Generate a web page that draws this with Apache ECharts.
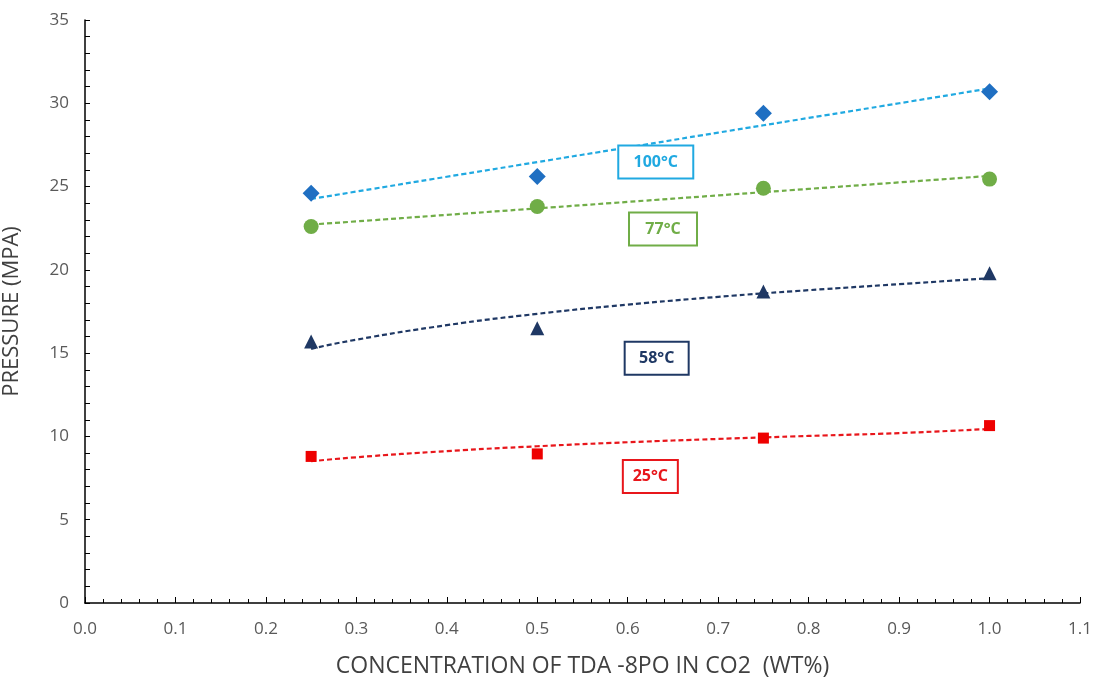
<!DOCTYPE html>
<html>
<head>
<meta charset="utf-8">
<script src="https://cdn.jsdelivr.net/npm/echarts@6/dist/echarts.min.js"></script>
<style>
  html, body { margin: 0; padding: 0; background: #fff; }
  #chart { width: 1098px; height: 681px; }
</style>
</head>
<body>
<div id="chart"></div>
<script>
// measured points (x = wt%)
var concX = [0.25, 0.5, 0.75, 1.0]
var p100 = [24.6, 25.6, 29.4, 30.7]
var p77 = [22.6, 23.8, 24.9, 25.45]
var p58 = [15.7, 16.5, 18.7, 19.8]
var p25 = [8.8, 8.95, 9.9, 10.65]

// trend lines
var trendX = [0.25, 0.3, 0.4, 0.5, 0.6, 0.7, 0.8, 0.9, 1.0]
var trend100 = [24.26, 24.7, 25.59, 26.47, 27.35, 28.24, 29.12, 30.0, 30.89]
var trend77 = [22.72, 22.91, 23.3, 23.69, 24.08, 24.47, 24.86, 25.25, 25.64]
var trend58 = [15.26, 15.81, 16.68, 17.36, 17.91, 18.38, 18.78, 19.14, 19.5]
var trend25 = [8.51, 8.75, 9.12, 9.41, 9.65, 9.85, 10.03, 10.2, 10.45]

// label boxes: [text, x, y, colour, box width]
var tempLabels = [
  ['100°C', 0.631, 26.47, '#20A9E1', 77],
  ['77°C', 0.639, 22.45, '#70AD47', 70],
  ['58°C', 0.632, 14.7, '#1F3864', 66],
  ['25°C', 0.625, 7.6, '#E8161B', 57]
]

function pairs (xs, ys) {
  return xs.map(function (x, i) { return [x, ys[i]] })
}

var chart = echarts.init(document.getElementById('chart'))
var fontFam = '"Open Sans", "Liberation Sans", sans-serif'

function scatter (data, symbol, size, color) {
  return {
    type: 'scatter',
    data: pairs(concX, data),
    symbol: symbol,
    symbolSize: size,
    itemStyle: { color: color, opacity: 1 },
    z: 5
  }
}
function trend (data, color) {
  return {
    type: 'line',
    data: pairs(trendX, data),
    smooth: true,
    showSymbol: false,
    lineStyle: { color: color, width: 2.2, type: [5, 3] },
    z: 3
  }
}

chart.setOption({
  animation: false,
  grid: { left: 85, right: 18, top: 20, bottom: 78, outerBoundsMode: 'none', containLabel: false },
  xAxis: {
    type: 'value',
    min: 0,
    max: 1.1,
    interval: 0.1,
    name: 'CONCENTRATION OF TDA -8PO IN CO2  (WT%)',
    nameLocation: 'middle',
    nameGap: 52,
    nameTextStyle: { fontSize: 23, color: '#404040', fontFamily: fontFam },
    axisLine: { lineStyle: { color: '#000', width: 1.5 } },
    axisTick: { inside: true, length: 6, lineStyle: { color: '#000' } },
    minorTick: { show: true, splitNumber: 5, length: 4, lineStyle: { color: '#000' } },
    splitLine: { show: false },
    axisLabel: {
      fontSize: 17,
      color: '#595959',
      fontFamily: fontFam,
      margin: 18,
      formatter: function (v) { return v.toFixed(1) }
    }
  },
  yAxis: {
    type: 'value',
    min: 0,
    max: 35,
    interval: 5,
    name: 'PRESSURE (MPA)',
    nameLocation: 'middle',
    nameGap: 62,
    nameTextStyle: { fontSize: 22, color: '#404040', fontFamily: fontFam },
    axisLine: { show: true, lineStyle: { color: '#000', width: 1.5 } },
    axisTick: { show: true, inside: true, length: 5, lineStyle: { color: '#000' } },
    minorTick: { show: true, splitNumber: 5, length: 5, lineStyle: { color: '#000' } },
    splitLine: { show: false },
    axisLabel: { fontSize: 17, color: '#595959', fontFamily: fontFam, margin: 16 }
  },
  series: [
    trend(trend100, '#20A9E1'),
    trend(trend77, '#70AD47'),
    trend(trend58, '#1F3864'),
    trend(trend25, '#E8161B'),
    scatter(p100, 'diamond', 17, '#1F6FC2'),
    scatter(p77, 'circle', 15, '#70AD47'),
    scatter(p58, 'triangle', 14, '#1F3864'),
    scatter(p25, 'rect', 11, '#EE0000')
  ]
})

// put the temperature boxes where the data coordinates land
chart.setOption({
  graphic: tempLabels.map(function (l) {
    var pt = chart.convertToPixel({ gridIndex: 0 }, [l[1], l[2]])
    return {
      type: 'text',
      x: pt[0],
      y: pt[1],
      style: {
        text: l[0],
        fill: l[3],
        font: 'bold 16px ' + fontFam,
        align: 'center',
        verticalAlign: 'middle',
        padding: [4, 0, 4, 0],
        borderColor: l[3],
        borderWidth: 2,
        backgroundColor: '#fff',
        width: l[4] - 4,
        height: 23
      },
      z: 10
    }
  })
})
</script>
</body>
</html>
